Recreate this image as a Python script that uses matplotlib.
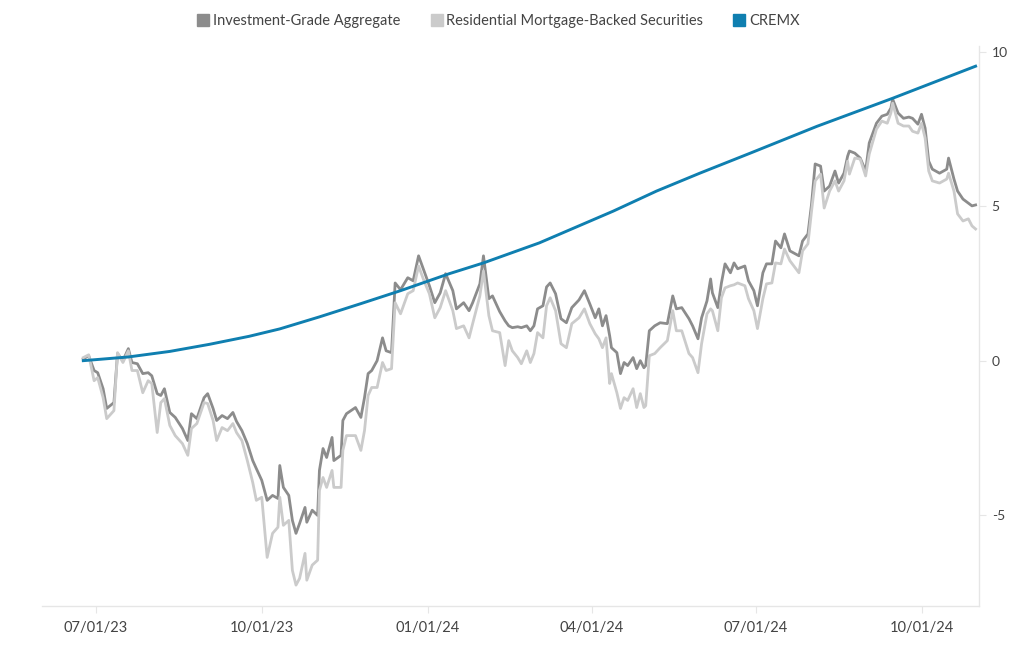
import pandas as pd
import matplotlib.pyplot as plt
import matplotlib.dates as mdates
from matplotlib.lines import Line2D

# Dates shared by the two bond index series
dates = ['2023-06-24', '2023-06-27', '2023-06-30', '2023-07-02', '2023-07-05', '2023-07-07',
         '2023-07-11', '2023-07-13', '2023-07-16', '2023-07-19', '2023-07-21', '2023-07-24',
         '2023-07-27', '2023-07-30', '2023-08-01', '2023-08-04', '2023-08-06', '2023-08-08',
         '2023-08-11', '2023-08-14', '2023-08-18', '2023-08-21', '2023-08-23', '2023-08-26',
         '2023-08-30', '2023-09-01', '2023-09-04', '2023-09-06', '2023-09-09', '2023-09-12',
         '2023-09-15', '2023-09-17', '2023-09-20', '2023-09-23', '2023-09-26', '2023-09-28',
         '2023-10-01', '2023-10-04', '2023-10-07', '2023-10-10', '2023-10-11', '2023-10-13',
         '2023-10-16', '2023-10-18', '2023-10-20', '2023-10-22', '2023-10-25', '2023-10-26',
         '2023-10-29', '2023-11-01', '2023-11-02', '2023-11-04', '2023-11-06', '2023-11-09',
         '2023-11-10', '2023-11-14', '2023-11-15', '2023-11-17', '2023-11-22', '2023-11-25',
         '2023-11-27', '2023-11-29', '2023-12-01', '2023-12-04', '2023-12-07', '2023-12-09',
         '2023-12-12', '2023-12-14', '2023-12-17', '2023-12-21', '2023-12-24', '2023-12-27',
         '2023-12-30', '2024-01-02', '2024-01-05', '2024-01-08', '2024-01-11', '2024-01-15',
         '2024-01-17', '2024-01-21', '2024-01-24', '2024-01-26', '2024-01-30', '2024-02-01',
         '2024-02-04', '2024-02-06', '2024-02-10', '2024-02-13', '2024-02-15', '2024-02-17',
         '2024-02-20', '2024-02-22', '2024-02-25', '2024-02-27', '2024-02-29', '2024-03-02',
         '2024-03-05', '2024-03-07', '2024-03-09', '2024-03-12', '2024-03-15', '2024-03-18',
         '2024-03-21', '2024-03-25', '2024-03-28', '2024-03-31', '2024-04-03', '2024-04-05',
         '2024-04-07', '2024-04-09', '2024-04-11', '2024-04-12', '2024-04-15', '2024-04-17',
         '2024-04-19', '2024-04-21', '2024-04-24', '2024-04-26', '2024-04-28', '2024-04-30',
         '2024-05-01', '2024-05-03', '2024-05-06', '2024-05-09', '2024-05-13', '2024-05-16',
         '2024-05-18', '2024-05-21', '2024-05-25', '2024-05-27', '2024-05-30', '2024-06-01',
         '2024-06-04', '2024-06-06', '2024-06-07', '2024-06-10', '2024-06-12', '2024-06-14',
         '2024-06-17', '2024-06-19', '2024-06-21', '2024-06-25', '2024-06-27', '2024-06-30',
         '2024-07-02', '2024-07-05', '2024-07-07', '2024-07-10', '2024-07-12', '2024-07-15',
         '2024-07-17', '2024-07-20', '2024-07-25', '2024-07-27', '2024-07-30', '2024-08-01',
         '2024-08-03', '2024-08-06', '2024-08-08', '2024-08-11', '2024-08-14', '2024-08-16',
         '2024-08-19', '2024-08-21', '2024-08-22', '2024-08-25', '2024-08-28', '2024-08-31',
         '2024-09-02', '2024-09-06', '2024-09-09', '2024-09-12', '2024-09-14', '2024-09-15',
         '2024-09-18', '2024-09-21', '2024-09-24', '2024-09-26', '2024-09-29', '2024-10-01',
         '2024-10-03', '2024-10-05', '2024-10-07', '2024-10-11', '2024-10-15', '2024-10-16',
         '2024-10-19', '2024-10-21', '2024-10-24', '2024-10-27', '2024-10-29', '2024-10-31']

# Investment-Grade Aggregate, cumulative return (%)
ig_agg = [0.06, 0.16, -0.32, -0.39, -0.91, -1.55, -1.36, 0.23, 0.00, 0.39, -0.06, -0.10,
          -0.42, -0.39, -0.49, -1.07, -1.13, -0.91, -1.68, -1.84, -2.20, -2.59, -1.72, -1.88,
          -1.20, -1.07, -1.55, -1.94, -1.78, -1.88, -1.68, -1.97, -2.27, -2.69, -3.24, -3.50,
          -3.88, -4.53, -4.37, -4.47, -3.40, -4.11, -4.37, -5.18, -5.60, -5.28, -4.76, -5.24,
          -4.85, -5.02, -3.56, -2.85, -3.14, -2.49, -3.24, -3.07, -1.94, -1.72, -1.52, -1.84,
          -1.20, -0.42, -0.32, 0.00, 0.74, 0.32, 0.26, 2.52, 2.30, 2.69, 2.59, 3.40,
          2.91, 2.43, 1.88, 2.20, 2.82, 2.27, 1.68, 1.88, 1.62, 1.88, 2.49, 3.40,
          2.01, 2.10, 1.59, 1.29, 1.13, 1.07, 1.10, 1.07, 1.13, 0.97, 1.13, 1.68,
          1.78, 2.39, 2.52, 2.17, 1.36, 1.23, 1.72, 1.97, 2.27, 1.84, 1.39, 1.68,
          1.13, 1.46, 0.81, 0.42, 0.26, -0.42, -0.06, -0.16, 0.10, -0.26, 0.00, -0.23,
          -0.16, 0.97, 1.13, 1.23, 1.20, 2.10, 1.68, 1.72, 1.36, 1.13, 0.71, 1.39,
          1.94, 2.65, 2.20, 1.72, 2.52, 3.14, 2.85, 3.17, 2.98, 3.07, 2.59, 2.27,
          1.78, 2.85, 3.14, 3.14, 3.88, 3.66, 4.11, 3.56, 3.40, 3.88, 4.11, 5.08,
          6.38, 6.31, 5.50, 5.66, 6.15, 5.76, 6.08, 6.63, 6.80, 6.73, 6.57, 6.15,
          7.06, 7.70, 7.93, 7.99, 8.19, 8.48, 8.03, 7.86, 7.90, 7.86, 7.67, 7.99,
          7.54, 6.47, 6.21, 6.08, 6.21, 6.57, 5.89, 5.50, 5.24, 5.11, 5.02, 5.05]

# Residential Mortgage-Backed Securities, cumulative return (%)
rmbs = [0.10, 0.19, -0.65, -0.55, -1.20, -1.88, -1.62, 0.26, -0.06, 0.32, -0.32, -0.32,
        -1.04, -0.65, -0.74, -2.33, -1.36, -1.23, -2.10, -2.43, -2.69, -3.07, -2.20, -2.04,
        -1.36, -1.39, -1.94, -2.59, -2.17, -2.27, -2.04, -2.33, -2.59, -3.24, -3.95, -4.53,
        -4.43, -6.38, -5.60, -5.40, -4.43, -5.34, -5.18, -6.80, -7.28, -7.06, -6.25, -7.12,
        -6.63, -6.47, -4.21, -3.79, -4.11, -3.56, -4.11, -4.11, -2.91, -2.43, -2.43, -2.91,
        -2.27, -1.13, -0.87, -0.87, -0.06, -0.32, -0.26, 1.88, 1.52, 2.17, 2.27, 3.07,
        2.59, 2.17, 1.39, 1.72, 2.27, 1.62, 1.04, 1.13, 0.74, 1.20, 2.10, 2.91,
        1.46, 0.97, 0.91, -0.16, 0.65, 0.32, 0.10, -0.10, 0.32, -0.06, 0.23, 0.91,
        0.74, 1.78, 2.04, 1.62, 0.55, 0.42, 1.20, 1.39, 1.68, 1.20, 0.87, 0.71,
        0.42, 0.74, -0.74, -0.42, -1.04, -1.55, -1.20, -1.29, -0.91, -1.52, -1.07, -1.52,
        -1.46, 0.16, 0.23, 0.42, 0.65, 1.62, 0.97, 0.97, 0.23, 0.10, -0.39, 0.55,
        1.52, 1.68, 1.62, 0.97, 2.04, 2.36, 2.43, 2.46, 2.52, 2.43, 2.01, 1.62,
        1.04, 2.01, 2.49, 2.52, 3.17, 3.14, 3.62, 3.24, 2.85, 3.56, 3.79, 4.85,
        5.83, 6.05, 4.95, 5.50, 5.83, 5.50, 5.83, 6.47, 6.05, 6.57, 6.54, 5.99,
        6.70, 7.51, 7.77, 7.70, 8.03, 8.35, 7.70, 7.61, 7.61, 7.44, 7.38, 7.70,
        7.22, 6.15, 5.83, 5.76, 5.89, 6.08, 5.50, 4.76, 4.53, 4.60, 4.37, 4.27]

# CREMX, cumulative return (%)
cremx_dates = ['2023-06-24', '2023-07-19', '2023-08-11', '2023-09-02', '2023-09-24',
               '2023-10-11', '2023-11-02', '2023-11-25', '2023-12-17', '2024-01-13',
               '2024-02-01', '2024-03-03', '2024-04-13', '2024-05-07', '2024-05-31',
               '2024-06-28', '2024-08-04', '2024-09-15', '2024-10-31']
cremx = [0.00, 0.12, 0.30, 0.53, 0.79, 1.03, 1.42, 1.85, 2.27, 2.82,
         3.17, 3.82, 4.85, 5.50, 6.08, 6.73, 7.60, 8.51, 9.55]

tick_dates = ['2023-07-01', '2023-10-01', '2024-01-01', '2024-04-01', '2024-07-01', '2024-10-01']

plt.rcParams['font.family'] = ['Lato', 'DejaVu Sans']
plt.rcParams['axes.unicode_minus'] = False

fig = plt.figure(figsize=(10.2, 6.5), dpi=100)
ax = fig.add_axes([0.041, 0.068, 0.919, 0.861])

x = pd.to_datetime(dates)
ax.plot(x, ig_agg, color='#8c8c8c', lw=2.0, label='Investment-Grade Aggregate')
ax.plot(x, rmbs, color='#cbcbcb', lw=2.0, label='Residential Mortgage-Backed Securities')
ax.plot(pd.to_datetime(cremx_dates), cremx, color='#0f7fb0', lw=2.1, label='CREMX')

ax.set_xlim(pd.Timestamp('2023-06-01'), pd.Timestamp('2024-11-02'))
ax.set_ylim(-7.95, 10.2)

ax.set_xticks(pd.to_datetime(tick_dates))
ax.xaxis.set_major_formatter(mdates.DateFormatter('%m/%d/%y'))
ax.set_yticks([-5, 0, 5, 10])
ax.yaxis.tick_right()

for side in ['top', 'left']:
    ax.spines[side].set_visible(False)
for side in ['bottom', 'right']:
    ax.spines[side].set_color('#e6e6e6')
    ax.spines[side].set_linewidth(1)
ax.tick_params(axis='x', colors='#e6e6e6', labelcolor='#444444', labelsize=10.5, length=5, pad=6)
ax.tick_params(axis='y', colors='#e6e6e6', labelcolor='#444444', labelsize=10, length=5, pad=4)

# square legend markers along the top
handles = [Line2D([], [], marker='s', ls='none', markersize=8, color=c)
           for c in ['#8c8c8c', '#cbcbcb', '#0f7fb0']]
labels = ['Investment-Grade Aggregate', 'Residential Mortgage-Backed Securities', 'CREMX']
leg = fig.legend(handles, labels, loc='upper center', bbox_to_anchor=(0.488, 0.998), ncol=3,
                 frameon=False, fontsize=10.5, handletextpad=0.15, columnspacing=2.0,
                 handlelength=1.0)
for t in leg.get_texts():
    t.set_color('#444444')

fig.savefig('out.png', dpi=100)
